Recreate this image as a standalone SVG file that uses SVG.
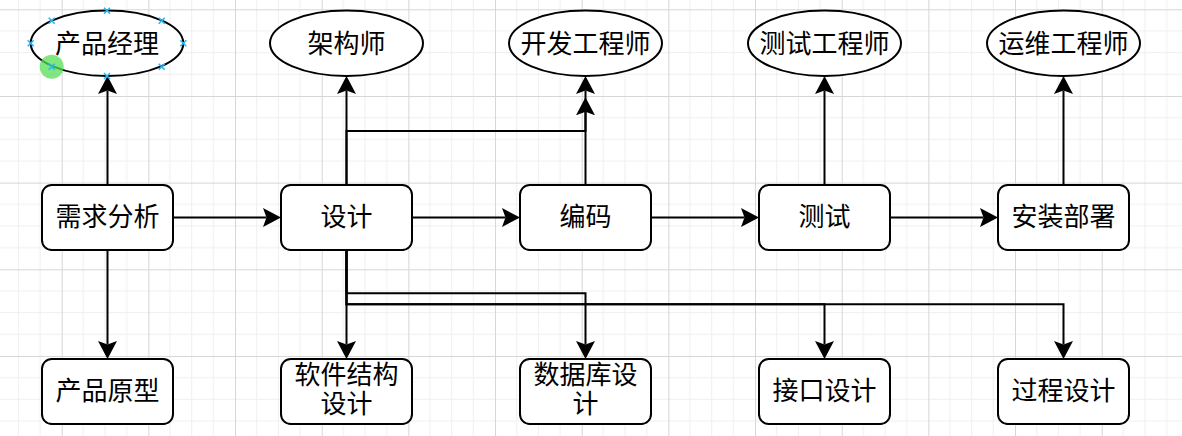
<svg xmlns="http://www.w3.org/2000/svg" width="1182" height="436" viewBox="0 0 1182 436">
<style>
.box{fill:#ffffff;stroke:#000000;stroke-width:2}
.lbl{font-family:"Noto Sans CJK SC","Noto Sans",sans-serif;font-size:26px;fill:#000000;text-anchor:middle}
.edge{fill:none;stroke:#000000;stroke-width:2}
.hx{stroke:#29b6f2;stroke-width:1.6;fill:none}
</style>
<defs>
<pattern id="grid" patternUnits="userSpaceOnUse" x="61.7" y="9.3" width="86.667" height="86.667">
<path d="M21.667,0V86.667M43.333,0V86.667M65,0V86.667M0,21.667H86.667M0,43.333H86.667M0,65H86.667" stroke="#efefef" stroke-width="1" fill="none"/>
<path d="M0.5,0V86.667M0,0.5H86.667" stroke="#d6d6d6" stroke-width="1" fill="none"/>
</pattern>
<marker id="arr" markerUnits="userSpaceOnUse" markerWidth="18" markerHeight="19" viewBox="0 0 18 19" refX="3.5" refY="9.5" orient="auto">
<path d="M0,0 L18,9.5 L0,19 L3.5,9.5 Z" fill="#000000"/>
</marker>
</defs>
<rect width="1182" height="436" fill="#ffffff"/>
<rect width="1182" height="436" fill="url(#grid)"/>

<g id="connectors">
<path class="edge" d="M107.5,185V90.5" marker-end="url(#arr)"/>
<path class="edge" d="M107.5,250V344.5" marker-end="url(#arr)"/>
<path class="edge" d="M173,217.5H266.5" marker-end="url(#arr)"/>
<path class="edge" d="M412,217.5H505.5" marker-end="url(#arr)"/>
<path class="edge" d="M651,217.5H744.5" marker-end="url(#arr)"/>
<path class="edge" d="M890,217.5H983.5" marker-end="url(#arr)"/>
<path class="edge" d="M346.5,185V90.5" marker-end="url(#arr)"/>
<path class="edge" d="M346.5,185V131H585.5V90.5" marker-end="url(#arr)"/>
<path class="edge" d="M585.5,185V111.8" marker-end="url(#arr)"/>
<path class="edge" d="M824.5,185V90.5" marker-end="url(#arr)"/>
<path class="edge" d="M1063.5,185V90.5" marker-end="url(#arr)"/>
<path class="edge" d="M346.5,250V344.5" marker-end="url(#arr)"/>
<path class="edge" d="M346.5,250V293.3H585.5V344.5" marker-end="url(#arr)"/>
<path class="edge" d="M346.5,250V304.3H824.5V344.5" marker-end="url(#arr)"/>
<path class="edge" d="M346.5,250V304.3H1063.5V344.5" marker-end="url(#arr)"/>
</g>

<g id="pm">
<ellipse class="box" cx="107" cy="43.3" rx="76.3" ry="32.7"/>
<text class="lbl" x="107" y="52.5">产品经理</text>
</g>
<g id="architect">
<ellipse class="box" cx="346.5" cy="43.3" rx="76.5" ry="32.7"/>
<text class="lbl" x="346.5" y="52.5">架构师</text>
</g>
<g id="dev">
<ellipse class="box" cx="585.5" cy="43.3" rx="76.5" ry="32.7"/>
<text class="lbl" x="585.5" y="52.5">开发工程师</text>
</g>
<g id="tester">
<ellipse class="box" cx="824.5" cy="43.3" rx="76.5" ry="32.7"/>
<text class="lbl" x="824.5" y="52.5">测试工程师</text>
</g>
<g id="ops">
<ellipse class="box" cx="1063.5" cy="43.3" rx="76.5" ry="32.7"/>
<text class="lbl" x="1063.5" y="52.5">运维工程师</text>
</g>

<g id="req">
<rect class="box" x="42" y="185" width="131" height="65" rx="9.75"/>
<text class="lbl" x="107.5" y="226">需求分析</text>
</g>
<g id="design">
<rect class="box" x="281" y="185" width="131" height="65" rx="9.75"/>
<text class="lbl" x="346.5" y="226">设计</text>
</g>
<g id="coding">
<rect class="box" x="520" y="185" width="131" height="65" rx="9.75"/>
<text class="lbl" x="585.5" y="226">编码</text>
</g>
<g id="test">
<rect class="box" x="759" y="185" width="131" height="65" rx="9.75"/>
<text class="lbl" x="824.5" y="226">测试</text>
</g>
<g id="deploy">
<rect class="box" x="998" y="185" width="131" height="65" rx="9.75"/>
<text class="lbl" x="1063.5" y="226">安装部署</text>
</g>

<g id="proto">
<rect class="box" x="42" y="359" width="131" height="65" rx="9.75"/>
<text class="lbl" x="107.5" y="399.5">产品原型</text>
</g>
<g id="arch-design">
<rect class="box" x="281" y="359" width="131" height="65" rx="9.75"/>
<text class="lbl" x="346.5" y="383.7">软件结构<tspan x="346.5" dy="29.1">设计</tspan></text>
</g>
<g id="db-design">
<rect class="box" x="520" y="359" width="131" height="65" rx="9.75"/>
<text class="lbl" x="585.5" y="383.7">数据库设<tspan x="585.5" dy="29.1">计</tspan></text>
</g>
<g id="api-design">
<rect class="box" x="759" y="359" width="131" height="65" rx="9.75"/>
<text class="lbl" x="824.5" y="399.5">接口设计</text>
</g>
<g id="proc-design">
<rect class="box" x="998" y="359" width="131" height="65" rx="9.75"/>
<text class="lbl" x="1063.5" y="399.5">过程设计</text>
</g>

<g id="selection">
<circle cx="51.7" cy="66.7" r="12" fill="#55dd55" fill-opacity="0.75"/>
<path class="hx" d="M104,7.7l6,6m0,-6l-6,6 M104,73l6,6m0,-6l-6,6 M27.7,40.3l6,6m0,-6l-6,6 M180.3,40.3l6,6m0,-6l-6,6 M48.7,17.7l6,6m0,-6l-6,6 M158.7,17.7l6,6m0,-6l-6,6 M48.7,63.7l6,6m0,-6l-6,6 M158.7,63.7l6,6m0,-6l-6,6"/>
</g>
</svg>
